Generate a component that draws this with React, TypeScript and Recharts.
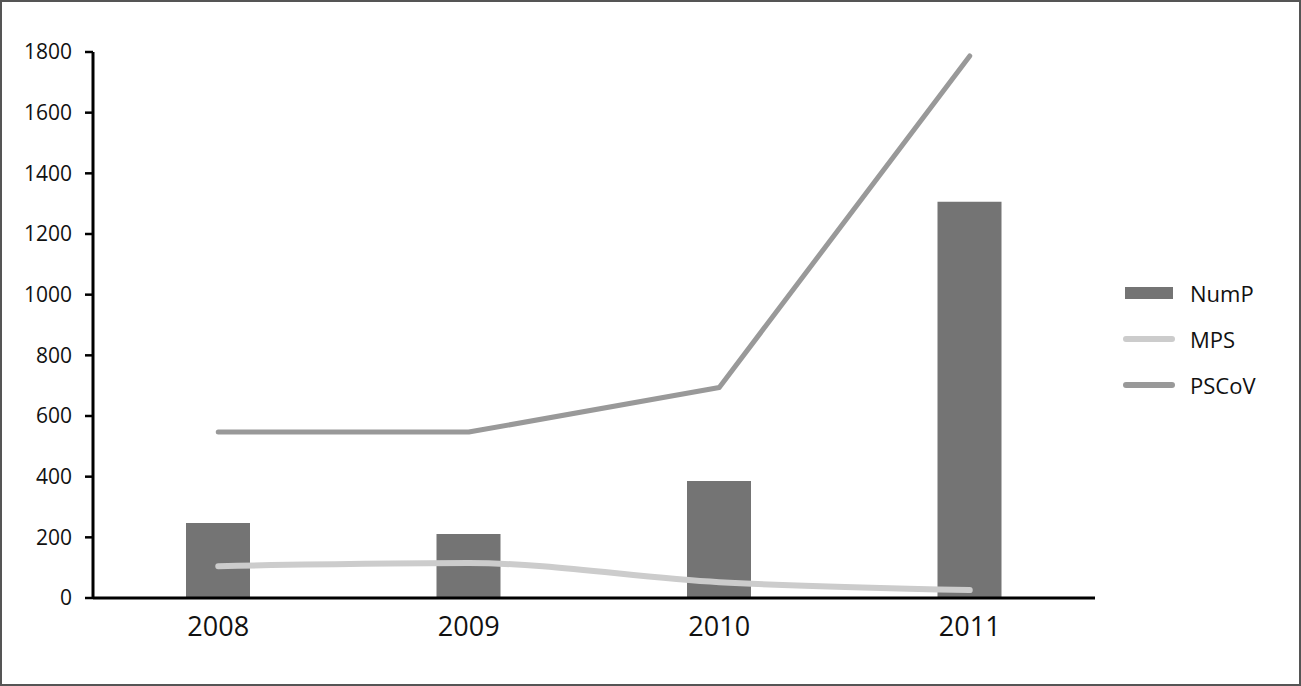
import React from "react";
import {
    ComposedChart,
    Bar,
    Line,
    XAxis,
    YAxis,
    Legend,
} from "recharts";

const years = ["2008", "2009", "2010", "2011"];
const numP = [247, 211, 386, 1306];
const mps = [105, 115, 52, 26];
const pscov = [547, 547, 694, 1787];
const yTicks = [0, 200, 400, 600, 800, 1000, 1200, 1400, 1600, 1800];

const data = years.map((year, i) => ({
    year,
    NumP: numP[i],
    MPS: mps[i],
    PSCoV: pscov[i],
}));

const FONT = "'Open Sans', 'Noto Sans', sans-serif";

function LegendBox() {
    const row = { display: "flex", alignItems: "center", height: 46 } as const;
    const label = { marginLeft: 15, fontSize: 22, color: "#111", fontFamily: FONT } as const;
    return (
        <div style={{ position: "absolute", left: 1123, top: 270, width: 170 }}>
            <div style={row}>
                <div style={{ width: 48, height: 12, marginLeft: 2, marginRight: 2, background: "#747474" }} />
                <span style={label}>NumP</span>
            </div>
            <div style={row}>
                <div style={{ width: 52, height: 6, borderRadius: 3, background: "#cccccc" }} />
                <span style={label}>MPS</span>
            </div>
            <div style={row}>
                <div style={{ width: 52, height: 6, borderRadius: 3, background: "#999999" }} />
                <span style={label}>PSCoV</span>
            </div>
        </div>
    );
}

export default function App() {
    return (
        <div style={{ position: "absolute", left: 0, top: 0, width: 1301, height: 686, background: "#fff" }}>
            <ComposedChart
                width={1301}
                height={686}
                data={data}
                margin={{ top: 52, right: 206, left: 0, bottom: 0 }}
                style={{ position: "absolute", left: 0, top: 0 }}
            >
                <XAxis
                    dataKey="year"
                    height={88}
                    tickLine={false}
                    tickSize={0}
                    tickMargin={19}
                    axisLine={{ stroke: "#000", strokeWidth: 3 }}
                    tick={{ fill: "#111", fontSize: 27, fontFamily: FONT }}
                />
                <YAxis
                    width={93}
                    domain={[0, 1800]}
                    ticks={yTicks}
                    interval={0}
                    tickSize={8}
                    tickMargin={13}
                    axisLine={{ stroke: "#000", strokeWidth: 3 }}
                    tickLine={{ stroke: "#000", strokeWidth: 2.5 }}
                    tick={{ fill: "#111", fontSize: 21, fontFamily: FONT }}
                />
                <Legend content={() => <LegendBox />} wrapperStyle={{ position: "absolute", left: 0, top: 0 }} />
                <Bar dataKey="NumP" fill="#747474" barSize={64} isAnimationActive={false} />
                <Line
                    type="monotone"
                    dataKey="MPS"
                    stroke="#cccccc"
                    strokeWidth={6}
                    strokeLinecap="round"
                    dot={false}
                    activeDot={false}
                    isAnimationActive={false}
                />
                <Line
                    type="linear"
                    dataKey="PSCoV"
                    stroke="#999999"
                    strokeWidth={5}
                    strokeLinecap="round"
                    strokeLinejoin="round"
                    dot={false}
                    activeDot={false}
                    isAnimationActive={false}
                />
            </ComposedChart>
            <div
                style={{
                    position: "absolute",
                    left: 0,
                    top: 0,
                    width: 1301,
                    height: 686,
                    boxSizing: "border-box",
                    border: "2px solid #555",
                    pointerEvents: "none",
                }}
            />
        </div>
    );
}
